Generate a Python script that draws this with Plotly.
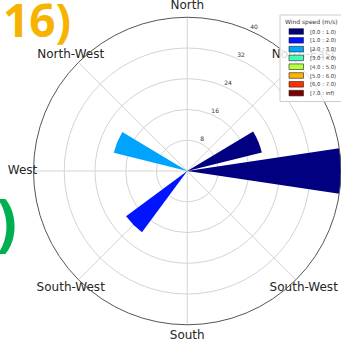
import math
import plotly.graph_objects as go

W, H = 341, 340

# 16 compass sectors (degrees, clockwise from north)
directions = [0, 22.5, 45, 67.5, 90, 112.5, 135, 157.5,
              180, 202.5, 225, 247.5, 270, 292.5, 315, 337.5]

# Frequency (%) per sector for each wind-speed bin
speed_bins = ["[0.0 : 1.0)", "[1.0 : 2.0)", "[2.0 : 3.0)", "[3.0 : 4.0)",
              "[4.0 : 5.0)", "[5.0 : 6.0)", "[6.0 : 7.0)", "[7.0 : inf)"]
bin_colors = ["#000080", "#0014ff", "#00a4ff", "#41ffb6",
              "#b6ff41", "#ffb200", "#ff3000", "#800000"]
freq_0_1 = [0, 0, 0, 20.0, 46.0, 0, 0, 0, 0, 0, 0, 0, 0, 0, 0, 0]
freq_1_2 = [0, 0, 0, 0, 0, 0, 0, 0, 0, 0, 19.8, 0, 0, 0, 0, 0]
freq_2_3 = [0, 0, 0, 0, 0, 0, 0, 0, 0, 0, 0, 0, 0, 19.7, 0, 0]
freq_3_4 = [0] * 16
freq_4_5 = [0] * 16
freq_5_6 = [0] * 16
freq_6_7 = [0] * 16
freq_7_inf = [0] * 16
bin_freqs = [freq_0_1, freq_1_2, freq_2_3, freq_3_4,
             freq_4_5, freq_5_6, freq_6_7, freq_7_inf]

# Axis labels
compass_angles = [0, 45, 90, 135, 180, 225, 270, 315]
compass_labels = ["North", "North-East", "East", "South-West",
                  "South", "South-West", "West", "North-West"]
radial_max = 40
radial_ticks = [8, 16, 24, 32, 40]
radial_tick_text = ["8", "16", "24", "32", "40"]

FONT = "DejaVu Sans"
GRID = "#d4d4d4"

# Polar panel geometry (paper fractions)
DOM_X = [0.0982, 1.0]
DOM_Y = [0.0, 0.994]
cx = (DOM_X[0] + DOM_X[1]) / 2 * W
cy = H - (DOM_Y[0] + DOM_Y[1]) / 2 * H
R = min((DOM_X[1] - DOM_X[0]) * W, (DOM_Y[1] - DOM_Y[0]) * H) / 2


def polar_px(r_px, ang):
    a = math.radians(ang)
    return cx + r_px * math.sin(a), cy - r_px * math.cos(a)


def fx(x):
    return x / W


def fy(y):
    return 1 - y / H


fig = go.Figure()

for name, color, freqs in zip(speed_bins, bin_colors, bin_freqs):
    fig.add_trace(go.Barpolar(
        r=freqs, theta=directions, width=17, name=name,
        marker=dict(color=color, line=dict(width=0)),
        showlegend=False, hoverinfo="skip",
    ))

# Compass labels just outside the rim (pixel overlay axes)
lab_pts = [polar_px(R + 11, a) for a in compass_angles]
fig.add_trace(go.Scatter(
    x=[p[0] for p in lab_pts], y=[p[1] for p in lab_pts],
    mode="text", text=compass_labels, textposition="middle center",
    textfont=dict(family=FONT, size=12, color="#262626"),
    cliponaxis=False, showlegend=False, hoverinfo="skip",
    xaxis="x", yaxis="y",
))

# Radial tick labels along the 25 degree bearing
tick_pts = [polar_px(v / radial_max * R + 4.5, 25) for v in radial_ticks]
fig.add_trace(go.Scatter(
    x=[p[0] for p in tick_pts], y=[p[1] for p in tick_pts],
    mode="text", text=radial_tick_text, textposition="middle center",
    textfont=dict(family=FONT, size=6, color="#333333"),
    cliponaxis=False, showlegend=False, hoverinfo="skip",
    xaxis="x", yaxis="y",
))

# Legend box
shapes = [dict(type="rect", xref="paper", yref="paper",
               x0=fx(280), x1=fx(346), y0=fy(101.5), y1=fy(15),
               fillcolor="rgba(255,255,255,0.82)",
               line=dict(color="#cccccc", width=1), layer="above")]
annotations = [dict(xref="paper", yref="paper", x=fx(311.5), y=fy(22.5),
                    text="Wind speed (m/s)", showarrow=False,
                    xanchor="center", yanchor="middle",
                    font=dict(family=FONT, size=6, color="#333333"))]
for i, (name, color) in enumerate(zip(speed_bins, bin_colors)):
    yc = 31.5 + i * 8.8
    shapes.append(dict(type="rect", xref="paper", yref="paper",
                       x0=fx(289), x1=fx(303.5), y0=fy(yc + 2.8), y1=fy(yc - 2.8),
                       fillcolor=color, line=dict(color="#222222", width=0.6),
                       layer="above"))
    annotations.append(dict(xref="paper", yref="paper", x=fx(307.5), y=fy(yc),
                            text=name, showarrow=False,
                            xanchor="left", yanchor="middle",
                            font=dict(family=FONT, size=5.3, color="#333333")))

# Panel markers
annotations.append(dict(xref="paper", yref="paper", x=fx(73), y=fy(19),
                        text="<b>16)</b>", showarrow=False,
                        xanchor="right", yanchor="middle",
                        font=dict(family="Open Sans", size=46, color="#f6b400")))
annotations.append(dict(xref="paper", yref="paper", x=fx(19), y=fy(220),
                        text="<b>)</b>", showarrow=False,
                        xanchor="right", yanchor="middle",
                        font=dict(family="Open Sans", size=62, color="#00b050")))

fig.update_layout(
    width=W, height=H,
    margin=dict(l=0, r=0, t=0, b=0),
    paper_bgcolor="white",
    plot_bgcolor="rgba(0,0,0,0)",
    showlegend=False,
    shapes=shapes,
    annotations=annotations,
    xaxis=dict(domain=[0, 1], range=[0, W], visible=False, fixedrange=True),
    yaxis=dict(domain=[0, 1], range=[H, 0], visible=False, fixedrange=True),
    polar=dict(
        domain=dict(x=DOM_X, y=DOM_Y),
        bgcolor="rgba(0,0,0,0)",
        angularaxis=dict(
            rotation=90, direction="clockwise",
            tickmode="array", tickvals=compass_angles,
            showticklabels=False, ticks="",
            gridcolor=GRID, gridwidth=1,
            showline=True, linecolor="#555555", linewidth=1,
        ),
        radialaxis=dict(
            range=[0, radial_max], tickmode="array", tickvals=radial_ticks,
            showticklabels=False, ticks="", showline=False,
            gridcolor=GRID, gridwidth=1,
        ),
    ),
)

fig.write_html("out.html")
